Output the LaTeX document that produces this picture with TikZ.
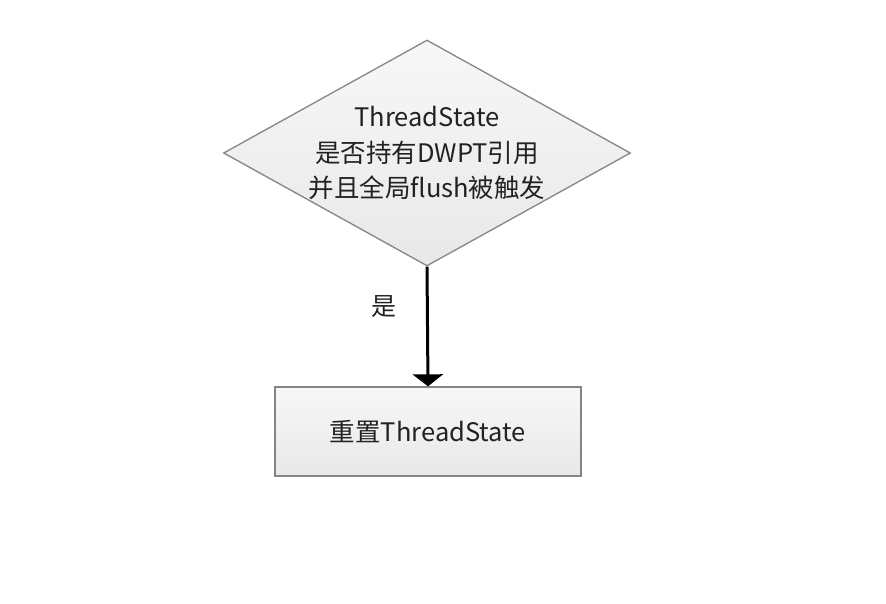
\documentclass[tikz,border=0pt]{standalone}
\usepackage{fontspec}
\setmainfont{Noto Sans CJK SC}
\usetikzlibrary{shapes.geometric,arrows.meta}
\definecolor{edgegray}{HTML}{858585}
\definecolor{txt}{HTML}{222222}
\tikzset{
  x=1pt,y=-1pt,
  shapebox/.style={draw=edgegray,line width=1.3pt,top color=gray!6,bottom color=gray!18,text=txt,inner sep=0pt,font=\fontsize{25.5}{35.5}\selectfont,align=center},
  decision/.style={shapebox,diamond,minimum width=407pt,minimum height=226pt,aspect=1.8},
  process/.style={shapebox,rectangle,minimum width=306pt,minimum height=89pt},
  flow/.style={line width=3pt,-{Triangle[width=30pt,length=12pt]}},
  lbl/.style={text=txt,font=\fontsize{25}{28}\selectfont}
}
\begin{document}
\begin{tikzpicture}
\useasboundingbox (0,0) rectangle (886,604);
\node[decision] (d) at (427,153) {ThreadState\\是否持有DWPT引用\\并且全局flush被触发};
\node[process] (r) at (428,431.5) {重置ThreadState};
\draw[flow] (d.south) -- (r.north);
\node[lbl] (yes) at (384,307) {是};
\end{tikzpicture}
\end{document}
